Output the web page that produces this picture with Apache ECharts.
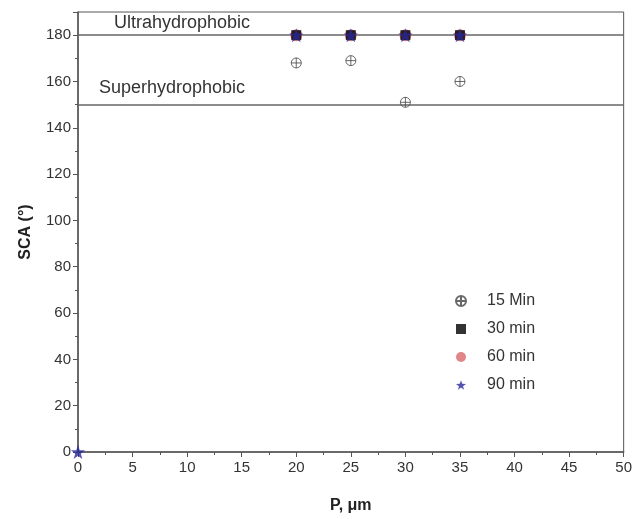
<!DOCTYPE html>
<html>
<head>
<meta charset="utf-8">
<script src="https://cdn.jsdelivr.net/npm/echarts@6/dist/echarts.min.js"></script>
<style>html,body{margin:0;padding:0;background:#fff;}#c{width:635px;height:519px;}</style>
</head>
<body>
<div id="c"></div>
<script>
const xTicks = [0, 5, 10, 15, 20, 25, 30, 35, 40, 45, 50];
const yTicks = [0, 20, 40, 60, 80, 100, 120, 140, 160, 180];
const seriesNames = ['15 Min', '30 min', '60 min', '90 min'];
const p15 = [20, 25, 30, 35];
const sca15 = [168, 169, 151, 160];
const p30 = [20, 25, 30, 35];
const sca30 = [180, 180, 180, 180];
const p60 = [20, 25, 30, 35];
const sca60 = [180, 180, 180, 180];
const p90 = [0, 20, 25, 30, 35];
const sca90 = [0, 180, 180, 180, 180];
const refLevels = [180, 150];
const refNames = ['Ultrahydrophobic', 'Superhydrophobic'];

const zip = (a, b) => a.map((v, i) => [v, b[i]]);
const crossCircle = 'path://M0,-5A5,5 0 1,1 0,5A5,5 0 1,1 0,-5ZM-5,0L5,0M0,-5L0,5';
const star = 'path://M0,-10L2.35,-3.24L9.51,-3.09L3.8,1.24L5.88,8.09L0,4L-5.88,8.09L-3.8,1.24L-9.51,-3.09L-2.35,-3.24Z';
const font = 'Liberation Sans, Arial';

const chart = echarts.init(document.getElementById('c'));
chart.setOption({
  animation: false,
  backgroundColor: '#fff',
  grid: { left: 78, right: 11, top: 12, bottom: 67, show: true, borderColor: '#555', borderWidth: 1, backgroundColor: 'transparent' },
  legend: {
    orient: 'vertical', left: 450, top: 288, itemGap: 12, itemWidth: 10, itemHeight: 10,
    textStyle: { fontFamily: font, fontSize: 16, color: '#333', padding: [0, 0, 0, 16] },
    data: seriesNames
  },
  xAxis: {
    type: 'value', min: 0, max: 50, interval: 5,
    name: 'P, μm', nameLocation: 'middle', nameGap: 46,
    nameTextStyle: { fontFamily: font, fontSize: 16, fontWeight: 'bold', color: '#222' },
    axisLine: { lineStyle: { color: '#555', width: 1.5 } },
    axisTick: { show: true, inside: false, length: 5, lineStyle: { color: '#555' } },
    minorTick: { show: true, splitNumber: 2, length: 3, lineStyle: { color: '#555' } },
    axisLabel: { fontFamily: font, fontSize: 15, color: '#333', margin: 8 },
    splitLine: { show: false }
  },
  yAxis: {
    type: 'value', min: 0, max: 190, interval: 20,
    name: 'SCA (°)', nameLocation: 'middle', nameGap: 44,
    nameTextStyle: { fontFamily: font, fontSize: 16, fontWeight: 'bold', color: '#222' },
    axisLine: { show: true, lineStyle: { color: '#555', width: 1.5 } },
    axisTick: { show: true, inside: false, length: 5, lineStyle: { color: '#555' } },
    minorTick: { show: true, splitNumber: 2, length: 3, lineStyle: { color: '#555' } },
    axisLabel: { fontFamily: font, fontSize: 15, color: '#333', margin: 7,
      formatter: v => yTicks.includes(v) ? String(v) : '' },
    splitLine: { show: false }
  },
  series: [
    {
      name: seriesNames[0], type: 'scatter', data: zip(p15, sca15), z: 5,
      symbol: crossCircle, symbolSize: 10,
      itemStyle: { color: 'rgba(255,255,255,0)', borderColor: '#444', borderWidth: 1 },
      markLine: {
        silent: true, symbol: 'none', animation: false,
        lineStyle: { color: '#666', width: 1.5, type: 'solid' },
        label: { show: true, position: 'insideStartTop', fontFamily: font, fontSize: 18, color: '#333', formatter: p => p.name },
        data: [
          { yAxis: refLevels[0], name: refNames[0], label: { padding: [0, 0, 0, 33], distance: 3 } },
          { yAxis: refLevels[1], name: refNames[1], label: { padding: [0, 0, 0, 13], distance: 8 } }
        ]
      }
    },
    {
      name: seriesNames[1], type: 'scatter', data: zip(p30, sca30), z: 7,
      symbol: 'rect', symbolSize: 10, itemStyle: { color: '#000' }
    },
    {
      name: seriesNames[2], type: 'scatter', data: zip(p60, sca60), z: 6,
      symbol: 'circle', symbolSize: 12, itemStyle: { color: '#d9666c' }
    },
    {
      name: seriesNames[3], type: 'scatter', data: zip(p90, sca90), z: 8,
      symbol: star, symbolSize: 14, itemStyle: { color: '#26289a' }
    }
  ]
});
</script>
</body>
</html>
